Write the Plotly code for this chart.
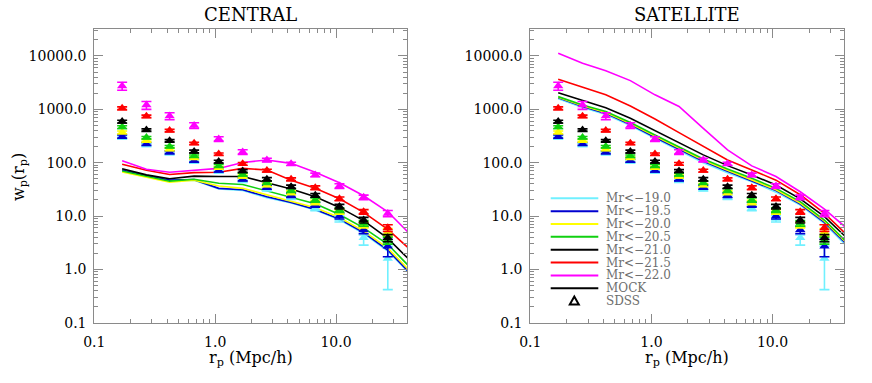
import plotly.graph_objects as go

# projected separations (Mpc/h); the mock curves carry one extra bin past the frame
rp = [0.17, 0.27, 0.42, 0.67, 1.07, 1.69, 2.68, 4.25, 6.74, 10.68, 16.93, 26.83]
rp_mock = rp + [42.5]

labels = ["Mr<\u221219.0", "Mr<\u221219.5", "Mr<\u221220.0", "Mr<\u221220.5",
          "Mr<\u221221.0", "Mr<\u221221.5", "Mr<\u221222.0"]
colors = ["#70f0ff", "#0000d0", "#ffff00", "#10d010", "#000000", "#ff0000", "#ff00ff"]

# SDSS wp(rp), same in both panels
sdss_190 = [295, 215, 150, 104, 68, 46, 32, 22.5, 14, 9.0, 3.9, 1.6]
sdss_195 = [310, 225, 157, 109, 71, 49, 34.5, 24.5, 16.3, 10, 5.5, 2.7]
sdss_200 = [370, 258, 178, 122, 80, 55, 38, 27.4, 18, 12, 6.8, 5.0]
sdss_205 = [465, 295, 200, 133, 87, 60, 42, 30, 20, 13, 7.3, 3.5]
sdss_210 = [590, 410, 258, 162, 105, 70, 49, 35.5, 24.5, 15, 8.4, 3.9]
sdss_215 = [1050, 740, 400, 230, 145, 95, 71, 49, 34, 21, 12, 6.0]
sdss_220 = [2750, 1200, 750, 500, 279, 159, 112, 95, 59, 36.5, 22.4, 11.2]

# fractional error bars
err_190_up = [0.07, 0.06, 0.06, 0.06, 0.06, 0.07, 0.08, 0.09, 0.1, 0.12, 0.13, 0.69]
err_190_dn = [0.07, 0.06, 0.06, 0.06, 0.06, 0.07, 0.08, 0.09, 0.1, 0.14, 0.27, 0.74]
err_195 = [0.07, 0.06, 0.06, 0.06, 0.06, 0.07, 0.08, 0.09, 0.1, 0.12, 0.15, 0.36]
err_200 = [0.06, 0.05, 0.05, 0.05, 0.06, 0.06, 0.07, 0.08, 0.09, 0.1, 0.12, 0.16]
err_205 = [0.06, 0.05, 0.05, 0.05, 0.06, 0.06, 0.07, 0.08, 0.09, 0.1, 0.12, 0.15]
err_210 = [0.06, 0.05, 0.05, 0.06, 0.06, 0.06, 0.07, 0.07, 0.08, 0.1, 0.12, 0.15]
err_215 = [0.06, 0.05, 0.05, 0.05, 0.05, 0.06, 0.06, 0.06, 0.08, 0.08, 0.1, 0.14]
err_220 = [0.17, 0.17, 0.15, 0.12, 0.1, 0.1, 0.08, 0.07, 0.08, 0.1, 0.1, 0.13]

# mock, central galaxies
cen_190 = [72, 56, 46, 47, 32, 30, 22, 17.5, 13, 8.5, 4.7, 2.2, 0.75]
cen_195 = [73, 57, 47, 48, 33, 31, 23, 18, 13.3, 8.8, 4.9, 2.3, 0.78]
cen_200 = [67, 53, 43, 47, 36.5, 33, 25, 19, 14.3, 9.4, 5.2, 2.5, 0.85]
cen_205 = [70, 56, 45, 49, 41, 39, 29.5, 23, 17, 10.7, 6.0, 2.95, 1.0]
cen_210 = [77, 59, 50, 56, 55, 55, 42, 32, 23, 14.5, 8.2, 3.8, 1.35]
cen_215 = [93, 72, 60, 65, 66, 78, 73, 47, 33, 21, 11.7, 5.6, 2.2]
cen_220 = [109, 75, 66, 71, 78, 101, 112, 97, 66, 42, 24, 12, 4.2]

# mock, satellite galaxies
sat_190 = [1570, 1080, 800, 495, 285, 168, 100, 65, 44, 28, 16, 7.2, 2.5]
sat_195 = [1640, 1130, 840, 520, 300, 178, 106, 69, 46, 30, 16.8, 7.6, 2.7]
sat_200 = [1680, 1170, 870, 540, 315, 186, 111, 72, 48, 31, 17.5, 8.0, 2.85]
sat_205 = [1730, 1210, 910, 565, 330, 195, 117, 76, 51, 33, 18.6, 8.4, 3.0]
sat_210 = [2050, 1450, 1070, 680, 400, 237, 140, 88, 59, 38, 21, 9.7, 3.6]
sat_215 = [3670, 2600, 1870, 1150, 660, 365, 200, 112, 73, 47, 25, 11.2, 4.1]
sat_220 = [11200, 7300, 5300, 3450, 1870, 1130, 440, 174, 87, 55, 28.5, 13.5, 5.5]

sdss = [sdss_190, sdss_195, sdss_200, sdss_205, sdss_210, sdss_215, sdss_220]
err_up = [err_190_up, err_195, err_200, err_205, err_210, err_215, err_220]
err_dn = [err_190_dn, err_195, err_200, err_205, err_210, err_215, err_220]
central = [cen_190, cen_195, cen_200, cen_205, cen_210, cen_215, cen_220]
satellite = [sat_190, sat_195, sat_200, sat_205, sat_210, sat_215, sat_220]

W, H = 872, 383
FONT = "DejaVu Serif"
FRAME = "#8a8a8a"

fig = go.Figure()

for xa, ya, mock in [("x", "y", central), ("x2", "y2", satellite)]:
    for i in range(len(labels)):
        fig.add_trace(go.Scatter(x=rp_mock, y=mock[i], xaxis=xa, yaxis=ya, mode="lines",
                                 line=dict(color=colors[i], width=1.6), showlegend=False,
                                 cliponaxis=True, hoverinfo="skip"))
    for i in range(len(labels)):
        up = [v * f for v, f in zip(sdss[i], err_up[i])]
        dn = [v * f for v, f in zip(sdss[i], err_dn[i])]
        fig.add_trace(go.Scatter(x=rp, y=sdss[i], xaxis=xa, yaxis=ya, mode="markers",
                                 marker=dict(symbol="triangle-up", size=9, color=colors[i]),
                                 error_y=dict(type="data", array=up, arrayminus=dn, symmetric=False,
                                              color=colors[i], thickness=1.6, width=5),
                                 showlegend=False, hoverinfo="skip"))

# log-axis tick positions
minor_x = [k * 10 ** n for n in (-1, 0, 1) for k in range(2, 10)]
minor_y = [k * 10 ** n for n in (-1, 0, 1, 2, 3, 4) for k in range(2, 10)]

xaxis_style = dict(type="log", range=[-1, 1.59], tickmode="array", automargin=False,
                   tickvals=[0.1, 1, 10], ticktext=["0.1", "1.0", "10.0"],
                   ticks="inside", ticklen=9, tickcolor=FRAME, mirror="allticks",
                   showline=True, linecolor=FRAME, linewidth=1, showgrid=False, zeroline=False,
                   minor=dict(tickvals=minor_x, ticks="inside", ticklen=4, tickcolor=FRAME, showgrid=False),
                   tickfont=dict(family=FONT, size=14, color="black"), ticklabelstandoff=6)
yaxis_style = dict(type="log", range=[-1, 4.5], tickmode="array", automargin=False,
                   tickvals=[0.1, 1, 10, 100, 1000, 10000],
                   ticktext=["0.1", "1.0", "10.0", "100.0", "1000.0", "10000.0"],
                   ticks="inside", ticklen=9, tickcolor=FRAME, mirror="allticks",
                   showline=True, linecolor=FRAME, linewidth=1, showgrid=False, zeroline=False,
                   minor=dict(tickvals=minor_y, ticks="inside", ticklen=4, tickcolor=FRAME, showgrid=False),
                   tickfont=dict(family=FONT, size=14, color="black"), ticklabelstandoff=4)

y_dom = [1 - 322.7 / H, 1 - 29.3 / H]
fig.update_layout(
    width=W, height=H, margin=dict(l=0, r=0, t=0, b=0, autoexpand=False),
    plot_bgcolor="white", paper_bgcolor="white", showlegend=False,
    xaxis=dict(xaxis_style, domain=[94.3 / W, 407.3 / W], anchor="y"),
    yaxis=dict(yaxis_style, domain=y_dom, anchor="x"),
    xaxis2=dict(xaxis_style, domain=[530.3 / W, 844 / W], anchor="y2"),
    yaxis2=dict(yaxis_style, domain=y_dom, anchor="x2"),
)

# titles and axis labels
annotations = [
    dict(text="CENTRAL", x=250.8 / W, y=1 - 15 / H, font=dict(size=18)),
    dict(text="SATELLITE", x=687 / W, y=1 - 15 / H, font=dict(size=18)),
    dict(text="r<sub>p</sub> (Mpc/h)", x=250.8 / W, y=1 - 358 / H, font=dict(size=16)),
    dict(text="r<sub>p</sub> (Mpc/h)", x=687 / W, y=1 - 358 / H, font=dict(size=16)),
    dict(text="w<sub>p</sub>(r<sub>p</sub>)", x=19 / W, y=1 - 177 / H, font=dict(size=16), textangle=-90),
]
for a in annotations:
    a.update(xref="paper", yref="paper", showarrow=False, xanchor="center", yanchor="middle")
    a["font"].update(family=FONT, color="black")
    fig.add_annotation(**a)

# hand-built legend inside the satellite panel
leg_x0, leg_x1, leg_tx = 550.7 / W, 598.3 / W, 605 / W
leg_rows = labels + ["MOCK", "SDSS"]
leg_cols = colors + ["#000000", None]
for i, (lab, col) in enumerate(zip(leg_rows, leg_cols)):
    yy = 1 - (198.3 + i * 12.85) / H
    if col is not None:
        fig.add_shape(type="line", xref="paper", yref="paper", x0=leg_x0, x1=leg_x1, y0=yy, y1=yy,
                      line=dict(color=col, width=2))
    else:
        cx, cy = 574.3, 198.3 + i * 12.85
        fig.add_shape(type="path", xref="paper", yref="paper",
                      path="M {} {} L {} {} L {} {} Z".format((cx - 4.5) / W, 1 - (cy + 3.5) / H,
                                                          (cx + 4.5) / W, 1 - (cy + 3.5) / H,
                                                          cx / W, 1 - (cy - 4.5) / H),
                      line=dict(color="black", width=2))
    fig.add_annotation(text=lab, x=leg_tx, y=yy, xref="paper", yref="paper", showarrow=False,
                       xanchor="left", yanchor="middle", borderpad=0,
                       font=dict(family=FONT, size=12, color="#6e6e6e"))

# the page body has a default 8px margin; drop it so the figure sits at the window corner
fig.write_html("out.html", config={"displayModeBar": False},
               post_script="document.body.style.margin='0';")
